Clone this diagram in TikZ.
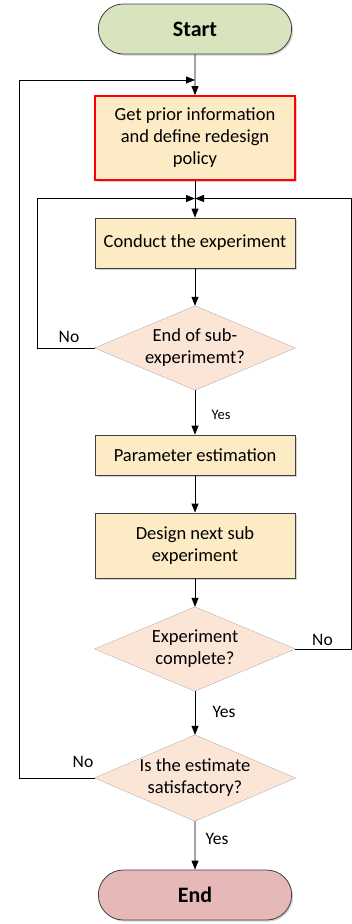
\documentclass[tikz,border=0pt]{standalone}
\usepackage{fontspec}
\setmainfont{Carlito}
\usetikzlibrary{shapes.geometric,shapes.misc,arrows.meta,shadows}
\definecolor{startfill}{HTML}{D7E4BD}
\definecolor{boxfill}{HTML}{FCEBC4}
\definecolor{decfill}{HTML}{FBE5D6}
\definecolor{endfill}{HTML}{E6B9B8}
\definecolor{edge}{HTML}{404040}
\tikzset{
  shade/.style={drop shadow={shadow xshift=1.5pt,shadow yshift=-1.5pt,opacity=0.35,fill=gray}},
  term/.style={rounded rectangle, draw=edge, line width=0.8pt, minimum width=200pt, minimum height=50pt, font=\fontsize{22}{26}\selectfont\bfseries, shade},
  procbox/.style={rectangle, draw=edge, line width=0.8pt, fill=boxfill, minimum width=200pt, align=center, font=\fontsize{18.5}{22}\selectfont, shade},
  decbox/.style={diamond, aspect=2.35, draw=none, fill=decfill, inner sep=0pt, align=center, font=\fontsize{18.5}{22}\selectfont},
  arr/.style={-{Triangle[length=9pt,width=7pt]}, line width=0.8pt, black},
  lab/.style={font=\fontsize{17.5}{20}\selectfont},
  slab/.style={font=\fontsize{14.5}{17}\selectfont},
}
\begin{document}
\begin{tikzpicture}[x=1pt,y=-1pt]
\useasboundingbox (0,0) rectangle (352,924);
% nodes
\node[term, fill=startfill] (start) at (195,29) {Start};
\node[procbox, draw=red, line width=1.6pt, minimum height=84pt] (get) at (195,138) {Get prior information\\and define redesign\\policy};
\node[procbox, minimum height=50pt] (cond) at (195,243) {Conduct the experiment};
\path[fill=decfill, draw=edge!60, line width=0.5pt] (195,306) -- (295,348) -- (195,390) -- (95,348) -- cycle;
\node[decbox, minimum width=200pt, minimum height=84pt] (d1) at (195,348) {End of sub-\\experimemt?};
\node[procbox, minimum height=40pt] (par) at (195,455) {Parameter estimation};
\node[procbox, minimum height=65pt] (des) at (195,545.5) {Design next sub\\experiment};
\path[fill=decfill, draw=edge!60, line width=0.5pt] (195,607) -- (295,649) -- (195,691) -- (95,649) -- cycle;
\node[decbox, minimum width=200pt, minimum height=84pt] (d2) at (195,649) {Experiment\\complete?};
\path[fill=decfill, draw=edge!60, line width=0.5pt] (195,735) -- (295,778) -- (195,821) -- (95,778) -- cycle;
\node[decbox, minimum width=200pt, minimum height=86pt] (d3) at (195,778) {Is the estimate\\satisfactory?};
\node[term, fill=endfill] (end) at (195,895) {End};
% junctions
\coordinate (j1) at (195,80);
\coordinate (j2) at (195,198.5);
% connectors
\draw[arr] (start) -- (get);
\draw[arr] (get) -- (cond);
\draw[arr] (cond) -- (d1.north);
\draw[arr] (d1.south) -- (par);
\draw[arr] (par) -- (des);
\draw[arr] (des) -- (d2.north);
\draw[arr] (d2.south) -- (d3.north);
\draw[arr] (d3.south) -- (end);
\draw[arr] (d1.west) -- ++(-57,0) |- (j2);
\draw[arr] (d2.east) -- (351.5,649) |- (j2);
\draw[arr] (d3.west) -- ++(-75,0) |- (j1);
% labels
\node[slab] (y1) at (221,415) {Yes};
\node[lab] (y2) at (224,712) {Yes};
\node[lab] (y3) at (217,839) {Yes};
\node[lab] (n1) at (69,337) {No};
\node[lab] (n2) at (322.5,640) {No};
\node[lab] (n3) at (83,762) {No};
\end{tikzpicture}
\end{document}
